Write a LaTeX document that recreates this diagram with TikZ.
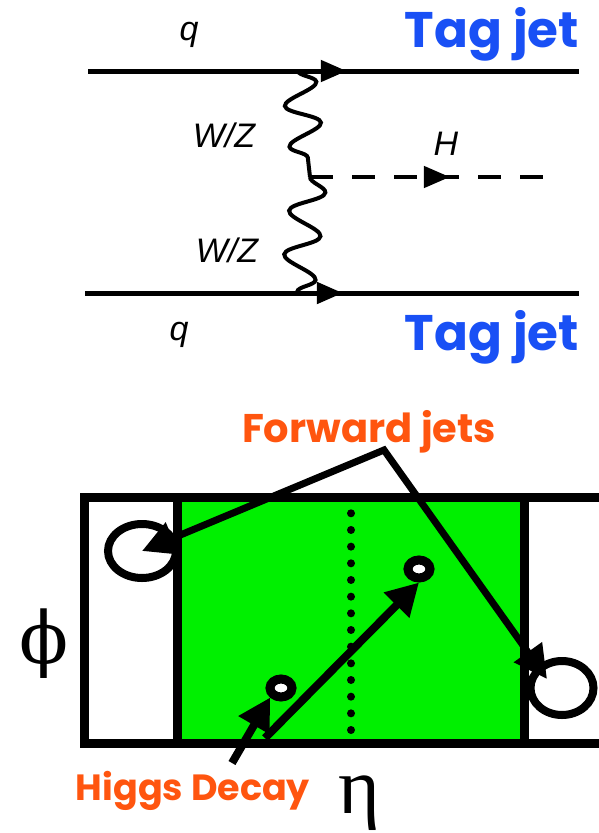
\documentclass[tikz,border=0pt]{standalone}
\usepackage{fontspec}
\newfontfamily\comicfont{Poppins}
\newfontfamily\feynfont{Liberation Sans}
\newfontfamily\greekfont{Liberation Serif}
\newfontfamily\phifont{DejaVu Serif}
\usepackage{tikz}
\usetikzlibrary{
  arrows.meta,
  positioning,
  shapes.geometric,
  decorations.pathmorphing,
  decorations.markings
}
\definecolor{tagblue}{RGB}{25,80,245}
\definecolor{jetorange}{RGB}{255,85,15}
\definecolor{calgreen}{RGB}{0,240,0}

\begin{document}
\begin{tikzpicture}[
  x=1pt, y=-1pt,
  quark/.style={line width=5pt, postaction={decorate},
    decoration={markings, mark=at position #1 with {\arrow{Triangle[length=26pt,width=21pt]}}}},
  boson/.style={line width=4pt, decorate},
  higgs/.style={line width=4.5pt, dash pattern=on 23pt off 19pt, postaction={decorate},
    decoration={markings, mark=at position #1 with {\arrow{Triangle[length=26pt,width=21pt]}}}},
  feyn/.style={font=\feynfont\itshape\fontsize{34}{34}\selectfont, inner sep=0pt},
  tag/.style={font=\comicfont\bfseries\fontsize{50}{50}\selectfont, text=tagblue, inner sep=0pt},
  fwd/.style={font=\comicfont\bfseries\fontsize{#1}{#1}\selectfont, text=jetorange, inner sep=0pt},
  axislbl/.style={font=\greekfont\fontsize{80}{80}\selectfont, inner sep=0pt},
  frame/.style={line width=9pt},
  jet/.style={ellipse, draw, line width=8pt, inner sep=0pt, outer sep=0pt},
  decay/.style={ellipse, draw, fill=white, line width=9pt, minimum width=22pt, minimum height=18pt, inner sep=0pt},
  jetline/.style={line width=7pt, {Triangle[length=33pt,width=33pt]}-{Triangle[length=33pt,width=33pt]}},
  decayarrow/.style={line width=8pt, -{Triangle[length=32pt,width=34pt]}}
]
  \useasboundingbox (0,0) rectangle (599,833);

  % Feynman graph
  \coordinate (qa) at (88,71);
  \coordinate (qaout) at (579,71);
  \coordinate (va) at (298,71);
  \coordinate (vh) at (310,177);
  \coordinate (hout) at (548,177);
  \coordinate (vb) at (297,293);
  \coordinate (qb) at (85,293);
  \coordinate (qbout) at (579,293);

  \draw[quark=0.527] (qa) -- (qaout);
  \draw[quark=0.522] (qb) -- (qbout);
  \draw[boson, decoration={snake, segment length=41pt, amplitude=17pt}] (va) -- (vh);
  \draw[boson, decoration={snake, segment length=44pt, amplitude=17pt}] (vh) -- (vb);
  \draw[higgs=0.588] (vh) -- (hout);

  \node[feyn, anchor=base] (qtop) at (189,40) {q};
  \node[feyn, anchor=base] (wztop) at (224,147) {W/Z};
  \node[feyn, anchor=base] (hlbl) at (446,155) {H};
  \node[feyn, anchor=base] (wzbot) at (227,262) {W/Z};
  \node[feyn, anchor=base] (qbot) at (179,340) {q};
  \node[tag, anchor=base east] (tagtop) at (579,47) {Tag jet};
  \node[tag, anchor=base east] (tagbot) at (579,350) {Tag jet};

  % Eta-phi plane
  \fill[calgreen] (177,497) rectangle (524,743);
  \draw[frame] (603,497) -- (84.5,497) -- (84.5,743) -- (603,743);
  \draw[frame] (177,497) -- (177,743);
  \draw[frame] (524,497) -- (524,743);
  \foreach \k in {0,...,13}
    \fill (351,{513.3+16.67*\k}) circle (4pt);

  % Jets and decay products
  \node[jet, minimum width=68pt, minimum height=54pt] (jetL) at (142,551) {};
  \node[jet, minimum width=63pt, minimum height=54pt] (jetR) at (562,688) {};
  \node[decay] (decayA) at (281,688) {};
  \node[decay] (decayB) at (419,569) {};

  % Arrows
  \coordinate (fwdtop) at (384,450);
  \coordinate (jetRhit) at (547,679);
  \coordinate (longstart) at (265,738);
  \coordinate (hdstart) at (232,763);
  \draw[jetline] (jetL.center) -- (fwdtop) -- (jetRhit);
  \draw[decayarrow] (longstart) -- (decayB.south);
  \draw[decayarrow] (hdstart) -- (decayA.south west);

  % Labels
  \node[fwd=40, anchor=base] (fwdlbl) at (369,442) {Forward jets};
  \node[fwd=36.5, anchor=base] (hdlbl) at (193,800) {Higgs Decay};
  \node[axislbl, font=\phifont\fontsize{72}{72}\selectfont] (philbl) at (44,644) {ϕ};
  \node[axislbl] (etalbl) at (359,803) {η};
\end{tikzpicture}
\end{document}
